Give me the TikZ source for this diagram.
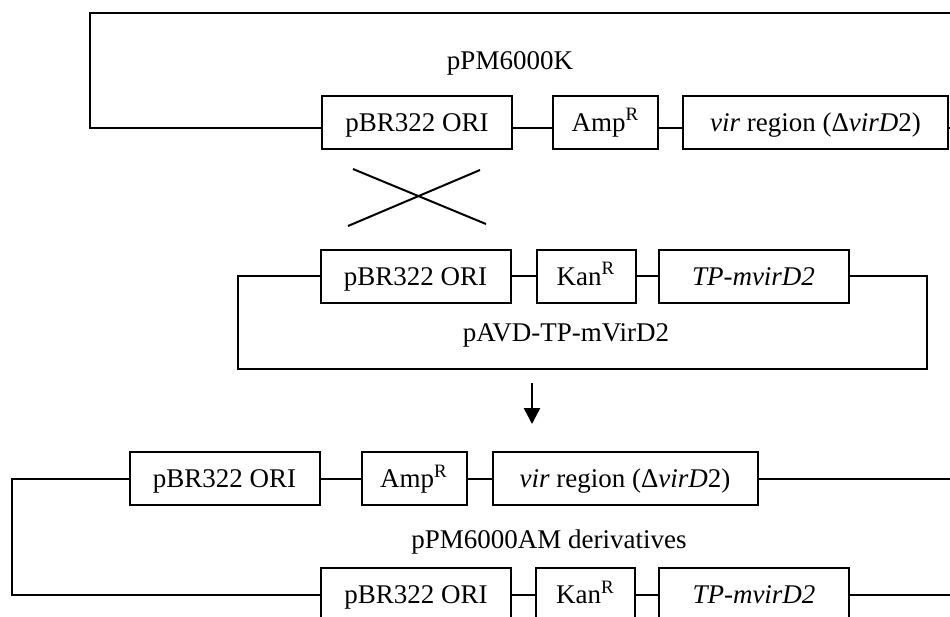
\documentclass[tikz,border=0pt]{standalone}
\usepackage{fontspec}
\setmainfont{Liberation Serif}
\usetikzlibrary{arrows.meta, positioning, calc}
\tikzset{
  gene/.style={draw, line width=1pt, minimum height=26.5pt, inner sep=0pt,
               outer sep=0pt, align=center, text height=9pt, text depth=0pt,
               font=\fontsize{13.5}{16}\selectfont},
  backbone/.style={line width=1pt},
  cross/.style={line width=1pt},
  plabel/.style={inner sep=0pt, font=\fontsize{13.5}{16}\selectfont},
  arrow/.style={-{Triangle[length=8pt, width=8pt]}, line width=1.2pt}
}

\begin{document}
\begin{tikzpicture}[x=0.5pt, y=-0.5pt]
  \useasboundingbox (0,0) rectangle (950,617);

  % pPM6000K
  \node[gene, minimum width=95pt] (ori1) at (417,122) {pBR322 ORI};
  \node[gene, minimum width=52.5pt, right=20.5pt of ori1] (amp1) {Amp\textsuperscript{R}};
  \node[gene, minimum width=132.5pt, right=12.5pt of amp1] (vir1)
    {\textit{vir} region (Δ\textit{virD}2)};
  \node[plabel] (lab1) at (510,63) {pPM6000K};
  \coordinate (tl1) at (90,13);
  \coordinate (tr1) at (950,13);
  \coordinate (er1) at (950,128);

  % pAVD-TP-mVirD2
  \node[gene, minimum width=95pt] (ori2) at (415.5,276) {pBR322 ORI};
  \node[gene, minimum width=49.5pt, right=13pt of ori2] (kan2) {Kan\textsuperscript{R}};
  \node[gene, minimum width=95pt, right=11.5pt of kan2] (tp2) {\textit{TP-mvirD2}};
  \node[plabel] (lab2) at (566,335) {pAVD-TP-mVirD2};
  \coordinate (bl2) at (238,369);
  \coordinate (br2) at (927,369);

  % pPM6000AM derivatives
  \node[gene, minimum width=95pt] (ori3) at (224.5,478.5) {pBR322 ORI};
  \node[gene, minimum width=52.5pt, right=21pt of ori3] (amp3) {Amp\textsuperscript{R}};
  \node[gene, minimum width=132.5pt, right=13pt of amp3] (vir3)
    {\textit{vir} region (Δ\textit{virD}2)};
  \node[gene, minimum width=95pt] (ori4) at (416,594.5) {pBR322 ORI};
  \node[gene, minimum width=49.5pt, right=12.5pt of ori4] (kan4) {Kan\textsuperscript{R}};
  \node[gene, minimum width=95pt, right=12pt of kan4] (tp4) {\textit{TP-mvirD2}};
  \node[plabel] (lab3) at (549,542) {pPM6000AM derivatives};
  \coordinate (tl3) at (12,478.5);
  \coordinate (bl3) at (12,594.5);
  \coordinate (er3) at (950,478.5);
  \coordinate (er4) at (950,594.5);

  % crossover and arrow
  \coordinate (xa) at (353,169);
  \coordinate (xb) at (486,224);
  \coordinate (xc) at (348,226);
  \coordinate (xd) at (480,170);
  \coordinate (as) at (532,383);
  \coordinate (ae) at (532,424);

  % Backbones
  \draw[backbone] (tr1) -- (tl1) |- ([yshift=-3pt]ori1.west);
  \draw[backbone] ([yshift=-3pt]ori1.east) -- ([yshift=-3pt]amp1.west);
  \draw[backbone] ([yshift=-3pt]amp1.east) -- ([yshift=-3pt]vir1.west);
  \draw[backbone] ([yshift=-3pt]vir1.east) -- (er1);

  \draw[backbone] (ori2.west) -| (bl2) -- (br2) |- (tp2.east);
  \draw[backbone] (ori2.east) -- (kan2.west);
  \draw[backbone] (kan2.east) -- (tp2.west);

  \draw[backbone] (ori3.west) -- (tl3) -- (bl3) -- (ori4.west);
  \draw[backbone] (ori3.east) -- (amp3.west);
  \draw[backbone] (amp3.east) -- (vir3.west);
  \draw[backbone] (vir3.east) -- (er3);
  \draw[backbone] (ori4.east) -- (kan4.west);
  \draw[backbone] (kan4.east) -- (tp4.west);
  \draw[backbone] (tp4.east) -- (er4);

  \draw[cross] (xa) -- (xb);
  \draw[cross] (xc) -- (xd);
  \draw[arrow] (as) -- (ae);
\end{tikzpicture}
\end{document}
